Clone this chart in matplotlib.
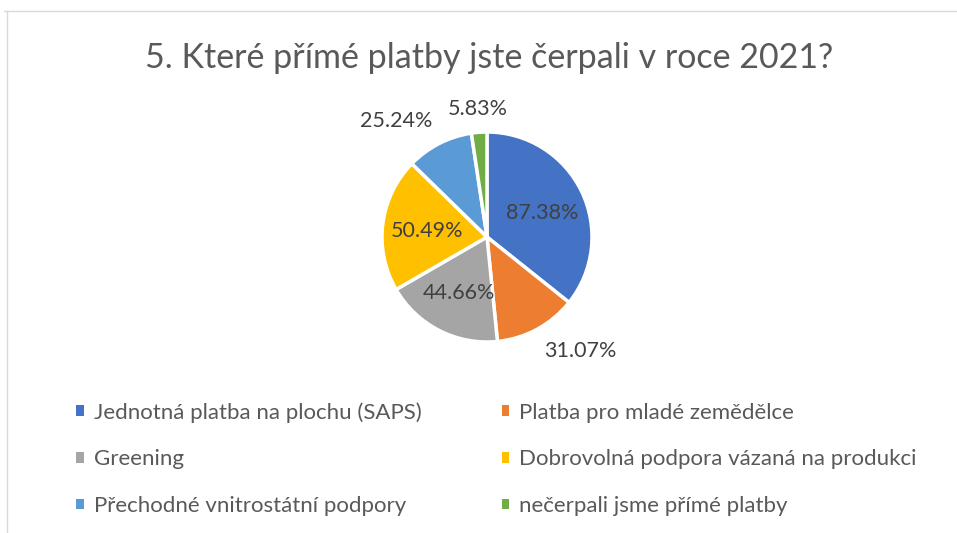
import numpy as np
import matplotlib.pyplot as plt
from matplotlib.patches import Patch
from matplotlib.lines import Line2D

# survey answers (share of respondents, %)
labels = ['Jednotná platba na plochu (SAPS)', 'Platba pro mladé zemědělce',
          'Greening', 'Dobrovolná podpora vázaná na produkci',
          'Přechodné vnitrostátní podpory', 'nečerpali jsme přímé platby']
values = [87.38, 31.07, 44.66, 50.49, 25.24, 5.83]
colors = ['#4472C4', '#ED7D31', '#A5A5A5', '#FFC000', '#5B9BD5', '#70AD47']
title = '5. Které přímé platby jste čerpali v roce 2021?'

plt.rcParams['font.family'] = ['Lato', 'DejaVu Sans']

W, H = 957, 533
fig = plt.figure(figsize=(W / 100, H / 100), dpi=100)

# chart frame (light grey, top and left only visible)
fig.add_artist(Line2D([4 / W, 1], [1 - 11 / H] * 2, color='#D9D9D9', lw=1))
fig.add_artist(Line2D([7 / W] * 2, [0, 1 - 11 / H], color='#D9D9D9', lw=1))

fig.text(489 / W, 1 - 58 / H, title, ha='center', va='center',
         fontsize=24.5, color='#595959')

# pie axes: centre (487, 237) px, radius 105 px
cx, cy, r = 487, 237, 105
ax = fig.add_axes([(cx - r) / W, (H - cy - r) / H, 2 * r / W, 2 * r / H])
wedges, _ = ax.pie(values, colors=colors, startangle=90, counterclock=False,
                   radius=1, wedgeprops=dict(edgecolor='white', linewidth=2.5))
ax.set_xlim(-1, 1)
ax.set_ylim(-1, 1)
ax.set_aspect('equal')
ax.axis('off')

total = sum(values)
for w, v in zip(wedges, values):
    ang = np.deg2rad((w.theta1 + w.theta2) / 2)
    txt = '{:.2f}%'.format(v)
    if v / total < 0.15:
        d = 1.13
        c, s = np.cos(ang), np.sin(ang)
        ha = 'left' if c > 0.15 else ('right' if c < -0.15 else 'center')
        va = 'bottom' if s > 0 else 'top'
        ax.text(d * c, d * s, txt, ha=ha, va=va, fontsize=15.5, color='#404040',
                clip_on=False)
    else:
        d = 0.58
        ax.text(d * np.cos(ang), d * np.sin(ang), txt, ha='center',
                va='center_baseline', fontsize=15.5, color='#404040')

# legend, filled row by row
order = [0, 2, 4, 1, 3, 5]
handles = [Patch(facecolor=colors[i], edgecolor='none', label=labels[i]) for i in order]
fig.legend(handles=handles, ncol=2, loc='upper left',
           bbox_to_anchor=(76 / W, 1 - 402 / H), frameon=False, borderpad=0,
           borderaxespad=0, fontsize=16, labelcolor='#595959',
           handlelength=0.35, handleheight=0.35, handletextpad=0.45,
           columnspacing=3.6, labelspacing=1.2)

fig.savefig('out.png', dpi=100)
